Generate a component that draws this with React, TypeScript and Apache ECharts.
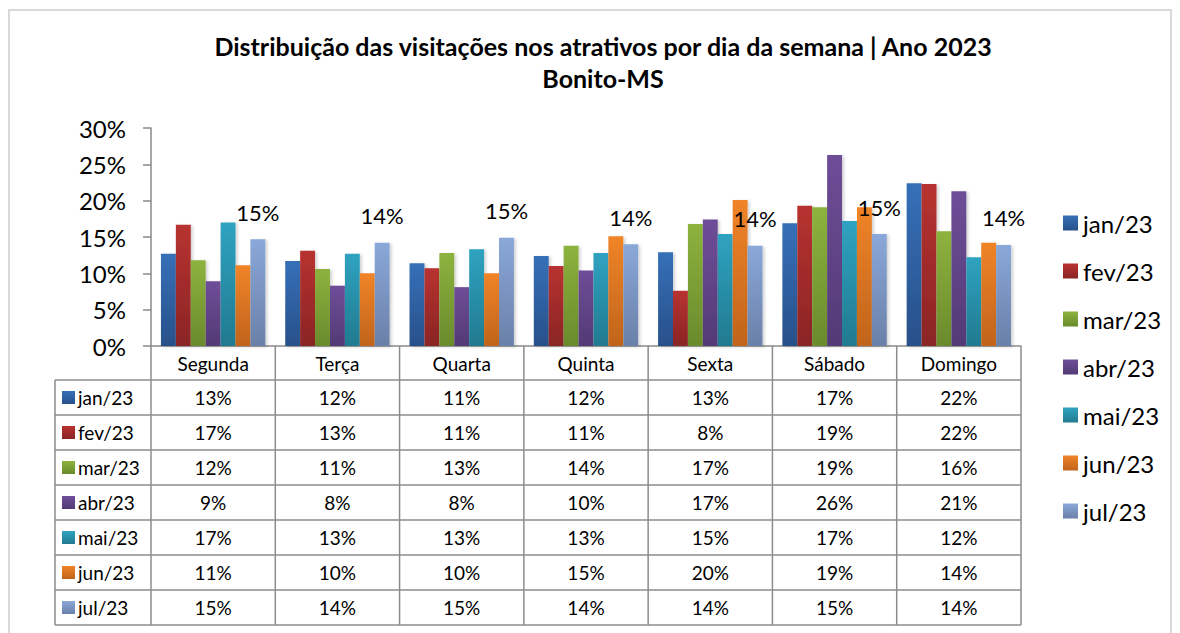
import { useEffect, useRef } from "react";
import * as echarts from "echarts";

const categories = ["Segunda", "Terça", "Quarta", "Quinta", "Sexta", "Sábado", "Domingo"];
const seriesNames = ["jan/23", "fev/23", "mar/23", "abr/23", "mai/23", "jun/23", "jul/23"];
const jan = [12.7, 11.7, 11.4, 12.4, 12.9, 16.9, 22.4];
const fev = [16.7, 13.1, 10.7, 11.0, 7.6, 19.3, 22.3];
const mar = [11.8, 10.6, 12.8, 13.8, 16.8, 19.1, 15.8];
const abr = [8.9, 8.3, 8.1, 10.4, 17.4, 26.3, 21.3];
const mai = [17.0, 12.7, 13.3, 12.8, 15.4, 17.2, 12.2];
const jun = [11.1, 10.0, 10.0, 15.1, 20.1, 19.1, 14.2];
const jul = [14.7, 14.2, 14.9, 14.0, 13.8, 15.4, 13.9];
const seriesValues = [jan, fev, mar, abr, mai, jun, jul];
const yTicks = { min: 0, max: 30, interval: 5 };

const topColors = ["#3670b8", "#b83230", "#8db33e", "#6e4e98", "#2fa3c1", "#f08428", "#8aa8d9"];
const bottomColors = ["#28508a", "#8a2525", "#6a8a2c", "#533a75", "#217a8f", "#c0641c", "#6a80a8"];

const FONT = "Lato";

function grad(i: number) {
  return new echarts.graphic.LinearGradient(0, 0, 0, 1, [
    { offset: 0, color: topColors[i] },
    { offset: 1, color: bottomColors[i] },
  ]);
}

export default function App() {
  const ref = useRef<HTMLDivElement>(null);
  useEffect(() => {
    if (!ref.current) return;
    const chart = echarts.init(ref.current, undefined, { renderer: "svg" });
    const option: any = {
      animation: false,
      backgroundColor: "#ffffff",
      title: {
        text: "Distribuição das visitações nos atrativos por dia da semana | Ano 2023\nBonito-MS",
        left: 598,
        top: 25,
        textAlign: "center",
        textStyle: { fontFamily: FONT, fontWeight: "bold", fontSize: 25, lineHeight: 32, color: "#000" },
      },
      legend: {
        orient: "vertical",
        left: 1058,
        top: 204,
        itemWidth: 15,
        itemHeight: 15,
        itemGap: 20,
        icon: "rect",
        textStyle: { fontFamily: FONT, fontSize: 24, lineHeight: 28, color: "#000" },
        data: seriesNames,
      },
      grid: { left: 151, right: 159, top: 128, bottom: 287 },
      xAxis: {
        type: "category",
        data: categories,
        axisLine: { show: true, lineStyle: { color: "#8a8a8a", width: 1.5 } },
        axisTick: { show: false },
        axisLabel: { margin: 8, fontFamily: FONT, fontSize: 19, color: "#000" },
      },
      yAxis: {
        type: "value",
        min: yTicks.min,
        max: yTicks.max,
        interval: yTicks.interval,
        axisLine: { show: true, lineStyle: { color: "#8a8a8a", width: 1.5 } },
        axisTick: { show: true, length: 8, lineStyle: { color: "#8a8a8a", width: 1.5 } },
        splitLine: { show: false },
        axisLabel: { formatter: "{value}%", fontFamily: FONT, fontSize: 24, color: "#000", margin: 25 },
      },
      series: seriesNames.map((name, i) => ({
        name,
        type: "bar",
        data: seriesValues[i],
        barGap: "0%",
        barCategoryGap: "16%",
        itemStyle: {
          color: grad(i),
          shadowColor: "rgba(0,0,0,0.18)",
          shadowBlur: 3,
          shadowOffsetX: 2,
          shadowOffsetY: 1,
        },
        label:
          i === 6
            ? {
                show: true,
                position: "top",
                distance: 14,
                formatter: (p: any) => `${Math.round(p.value)}%`,
                fontFamily: FONT,
                fontSize: 22,
                lineHeight: 26,
                color: "#000",
              }
            : { show: false },
      })),
    };
    chart.setOption(option);

    const c0 = chart.convertToPixel({ xAxisIndex: 0 }, 0) as number;
    const c1 = chart.convertToPixel({ xAxisIndex: 0 }, 1) as number;
    const band = c1 - c0;
    const left = c0 - band / 2;
    const right = left + band * categories.length;
    const y0 = chart.convertToPixel({ yAxisIndex: 0 }, 0) as number;
    const headerH = 34;
    const rowH = 35;
    const labelLeft = 55;
    const tableTop = y0 + headerH;
    const tableBottom = tableTop + rowH * seriesNames.length;
    const lineStyle = { stroke: "#8c8c8c", lineWidth: 1.5 };

    const els: any[] = [];
    els.push({
      type: "rect",
      shape: { x: 9, y: 10, width: 1162, height: 640 },
      style: { fill: "none", stroke: "#d9d9d9", lineWidth: 2 },
      silent: true,
    });
    for (let i = 0; i <= categories.length; i++) {
      const x = left + band * i;
      els.push({ type: "line", shape: { x1: x, y1: y0, x2: x, y2: tableBottom }, style: lineStyle });
    }
    els.push({ type: "line", shape: { x1: labelLeft, y1: tableTop, x2: labelLeft, y2: tableBottom }, style: lineStyle });
    for (let k = 0; k <= seriesNames.length; k++) {
      const y = tableTop + rowH * k;
      els.push({ type: "line", shape: { x1: labelLeft, y1: y, x2: right, y2: y }, style: lineStyle });
    }
    seriesNames.forEach((name, r) => {
      const cy = tableTop + rowH * r + rowH / 2;
      els.push({
        type: "rect",
        shape: { x: 62, y: cy - 6.5, width: 13, height: 13 },
        style: { fill: grad(r) },
      });
      els.push({
        type: "text",
        x: 78,
        y: cy,
        style: { text: name, fontFamily: FONT, fontSize: 19, fill: "#000", verticalAlign: "middle", align: "left" },
      });
      seriesValues[r].forEach((v, c) => {
        els.push({
          type: "text",
          x: left + band * c + band / 2,
          y: cy,
          style: {
            text: `${Math.round(v)}%`,
            fontFamily: FONT,
            fontSize: 19,
            fill: "#000",
            verticalAlign: "middle",
            align: "center",
          },
        });
      });
    });
    chart.setOption({ graphic: { elements: els } });

    return () => chart.dispose();
  }, []);
  return <div ref={ref} style={{ position: "fixed", left: 0, top: 0, width: 1180, height: 633 }} />;
}
